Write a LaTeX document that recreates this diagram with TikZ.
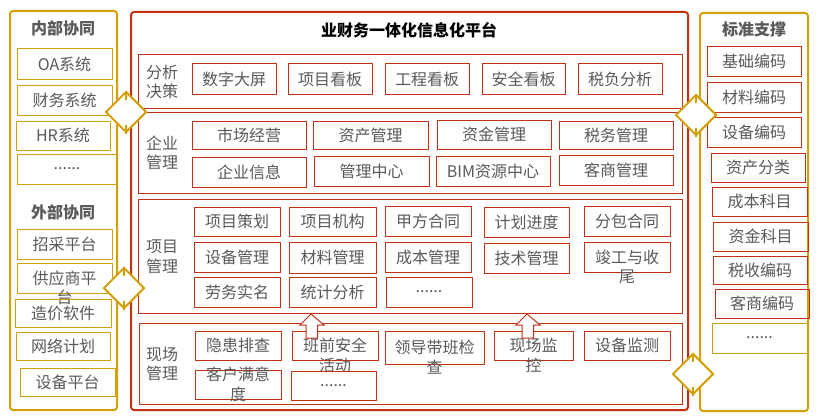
\documentclass[tikz,border=0pt]{standalone}
\usepackage{fontspec}
\setmainfont{Noto Sans CJK SC}
\usetikzlibrary{positioning,shapes.geometric}
\definecolor{gold}{RGB}{212,160,10}
\definecolor{brick}{RGB}{192,50,18}
\definecolor{ink}{RGB}{89,89,89}

\begin{document}
\begin{tikzpicture}[x=1pt, y=-1pt,
  font=\fontsize{16}{19.5}\selectfont,
  span/.style n args={4}{minimum width={(#3-#1)*1pt}, minimum height={(#4-#2)*1pt}, at={({(#1+#3)/2},{(#2+#4)/2})}},
  panel/.style={draw, rounded corners=3pt, inner sep=0pt},
  cell/.style={draw=brick, line width=1pt, inner sep=0pt, text=ink},
  goldcell/.style={cell, draw=gold},
  head/.style={text=ink, font=\fontsize{16}{19.5}\selectfont\bfseries},
  side/.style={text=ink, align=center, inner sep=0pt},
  spill/.style={text=ink, inner sep=0pt, anchor=base},
  link/.style={diamond, draw=gold, line width=2pt, fill=white, minimum width=41pt, minimum height=41pt, inner sep=0pt},
  tick/.style={gold, line width=1.5pt},
  uparr/.style={draw=brick, line width=1pt, fill=white, line join=miter}
]
\useasboundingbox (0,0) rectangle (816,420);

% left: internal / external
\node[panel, draw=gold, line width=2pt, span={10}{11}{117}{410}] (coop) {};
\node[head] (intitle) at (63,28) {内部协同};
\node[goldcell, span={17}{49}{112}{79}] (oa) {OA系统};
\node[goldcell, span={17}{85}{112}{115}] (cw) {财务系统};
\node[goldcell, span={16}{121}{110}{150}] (hr) {HR系统};
\node[goldcell, span={17}{154}{117}{184}] (inmore) {......};
\node[head] (extitle) at (63,212) {外部协同};
\node[goldcell, span={17}{229}{112}{259}] (zc) {招采平台};
\node[goldcell, span={17}{263}{112}{293}] (gys) {供应商平};
\node[spill] (gys2) at ([yshift=-19pt]gys.base) {台};
\node[goldcell, span={15}{299}{111}{327}] (zj) {造价软件};
\node[goldcell, span={16}{332}{110}{360}] (wl) {网络计划};
\node[goldcell, span={20}{368}{115}{396}] (sbpt) {设备平台};

% centre platform
\node[panel, draw=brick, line width=2pt, span={131}{12}{688}{410}] (plat) {};
\node[font=\fontsize{16}{19.5}\selectfont\bfseries] (title) at (409,30) {业财务一体化信息化平台};

\node[panel, draw=brick, line width=1pt, rounded corners=0pt, span={138}{55}{682}{108}] (r1) {};
\node[panel, draw=brick, line width=1pt, rounded corners=0pt, span={138}{112}{682}{193}] (r2) {};
\node[panel, draw=brick, line width=1pt, rounded corners=0pt, span={138}{199}{682}{313}] (r3) {};
\node[panel, draw=brick, line width=1pt, rounded corners=0pt, span={139}{323}{682}{404}] (r4) {};

\node[side] (l1) at (162,82) {分析\\决策};
\node[side] (l2) at (162,153) {企业\\管理};
\node[side] (l3) at (162,257) {项目\\管理};
\node[side] (l4) at (162,364) {现场\\管理};

% analysis
\node[cell, span={192}{64}{276}{94}] (szdp) {数字大屏};
\node[cell, span={288}{64}{372}{94}] (xmkb) {项目看板};
\node[cell, span={385}{64}{469}{94}] (gckb) {工程看板};
\node[cell, span={482}{64}{565}{94}] (aqkb) {安全看板};
\node[cell, span={578}{64}{662}{94}] (sffx) {税负分析};

% enterprise
\node[cell, span={192}{121}{306}{149}] (scjy) {市场经营};
\node[cell, span={313}{121}{428}{149}] (zcgl) {资产管理};
\node[cell, span={437}{120}{551}{149}] (zjgl) {资金管理};
\node[cell, span={559}{121}{673}{149}] (swgl) {税务管理};
\node[cell, span={192}{157}{306}{187}] (qyxx) {企业信息};
\node[cell, span={314}{156}{429}{186}] (glzx) {管理中心};
\node[cell, span={436}{156}{550}{186}] (bim) {BIM资源中心};
\node[cell, span={559}{155}{673}{185}] (ksgl) {客商管理};

% project
\node[cell, span={194}{207}{280}{236}] (xmch) {项目策划};
\node[cell, span={289}{207}{376}{236}] (xmjg) {项目机构};
\node[cell, span={385}{206}{471}{236}] (jfht) {甲方合同};
\node[cell, span={484}{207}{569}{237}] (jhjd) {计划进度};
\node[cell, span={584}{206}{670}{236}] (fbht) {分包合同};
\node[cell, span={194}{242}{280}{272}] (sbgl) {设备管理};
\node[cell, span={289}{242}{376}{273}] (clgl) {材料管理};
\node[cell, span={385}{242}{471}{272}] (cbgl) {成本管理};
\node[cell, span={484}{243}{569}{273}] (jsgl) {技术管理};
\node[cell, span={584}{242}{670}{272}] (jgys) {竣工与收};
\node[spill] (jgys2) at ([yshift=-19.5pt]jgys.base) {尾};
\node[cell, span={194}{277}{280}{307}] (lwsm) {劳务实名};
\node[cell, span={289}{277}{376}{307}] (tjfx) {统计分析};
\node[cell, span={386}{277}{472}{307}] (xmmore) {......};

% site
\node[cell, span={195}{331}{281}{360}] (yhpc) {隐患排查};
\node[cell, span={292}{331}{378}{360}] (bqaq) {班前安全};
\node[spill] (bqaq2) at ([yshift=-19.5pt]bqaq.base) {活动};
\node[cell, span={385}{331}{484}{364}] (ldjc) {领导带班检};
\node[spill] (ldjc2) at ([yshift=-19.5pt]ldjc.base) {查};
\node[cell, span={494}{331}{573}{360}] (xcjk) {现场监};
\node[spill] (xcjk2) at ([yshift=-19.5pt]xcjk.base) {控};
\node[cell, span={584}{331}{670}{360}] (sbjc) {设备监测};
\node[cell, span={195}{370}{281}{399}] (khmy) {};
\node[side] (khmyt) at (khmy.center) {客户满意\\度};
\node[cell, span={291}{371}{376}{400}] (xcmore) {......};

% block arrows up into project layer
\draw[uparr] (311,314) -- ++(13,11) -- ++(-6.5,0) -- ++(0,13) -- ++(-11.5,0) -- ++(0,-13) -- ++(-6,0) -- cycle;
\draw[uparr] (527,314) -- ++(13,11) -- ++(-6.5,0) -- ++(0,13) -- ++(-11.5,0) -- ++(0,-13) -- ++(-6,0) -- cycle;

% right: standards
\node[panel, draw=gold, line width=2pt, span={700}{13}{808}{411}] (std) {};
\node[head] (stdtitle) at (754,29) {标准支撑};
\node[cell, span={707}{47}{801}{76}] (jcbm) {基础编码};
\node[cell, span={707}{82}{801}{112}] (clbm) {材料编码};
\node[cell, span={707}{117}{801}{147}] (sbbm) {设备编码};
\node[cell, span={711}{153}{805}{182}] (zcfl) {资产分类};
\node[cell, span={712}{187}{807}{216}] (cbkm) {成本科目};
\node[cell, span={713}{222}{808}{251}] (zjkm) {资金科目};
\node[cell, span={713}{256}{807}{284}] (ssbm) {税收编码};
\node[cell, span={715}{289}{809}{318}] (ksbm) {客商编码};
\node[goldcell, span={712}{323}{807}{353}] (stdmore) {......};

% links
\node[link] (dl1) at (126,112) {};
\node[link] (dl2) at (124,288) {};
\node[link] (dr1) at (696,115) {};
\node[link] (dr2) at (693,374) {};
\foreach \d in {dl1,dl2,dr1,dr2}{
  \draw[tick] (\d.north) -- ++(0,9);
  \draw[tick] (\d.south) -- ++(0,-9);
}
\end{tikzpicture}
\end{document}
